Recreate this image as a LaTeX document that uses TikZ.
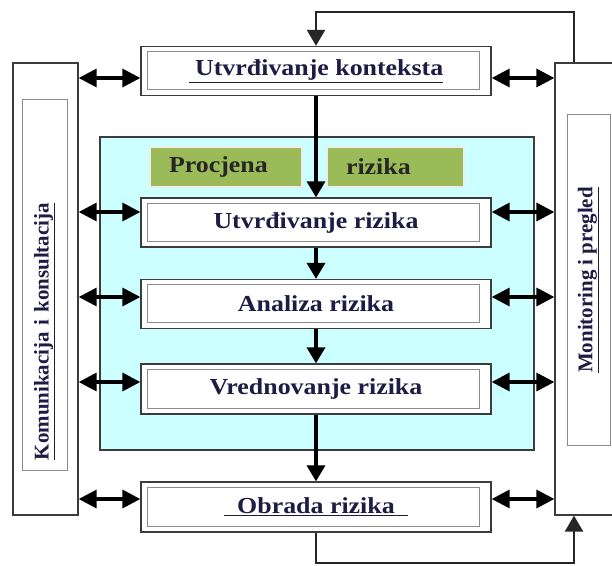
\documentclass[tikz,border=0pt]{standalone}
\usepackage{fontspec}
\setmainfont{Liberation Serif}
\usetikzlibrary{arrows.meta}
\definecolor{rk_cyan}{RGB}{204,255,255}
\definecolor{rk_green}{RGB}{155,187,89}
\definecolor{rk_text}{RGB}{28,28,68}
\definecolor{rk_frame}{RGB}{60,60,60}
\definecolor{rk_inner}{RGB}{140,140,140}
\newcommand{\widetxt}[1]{\scalebox{1.13}[1]{#1}}
\tikzset{
  stepbox/.style={rectangle, draw=rk_frame, fill=white, line width=1.3bp,
    minimum width=350bp, minimum height=49bp, inner sep=0pt, text=rk_text,
    font=\fontsize{23}{25}\selectfont\bfseries,
    path picture={\draw[rk_inner, line width=1bp]
      ([shift={(6bp,-5bp)}]path picture bounding box.north west) rectangle
      ([shift={(-12bp,6bp)}]path picture bounding box.south east);}},
  sidebox/.style={rectangle, draw=rk_frame, fill=white, line width=1.3bp, inner sep=0pt},
  sidetext/.style={rectangle, draw=rk_inner, line width=1bp, inner sep=0pt, rotate=90,
    text=rk_text, font=\fontsize{21}{23}\selectfont\bfseries},
  greenbox/.style={rectangle, fill=rk_green, draw=white!85!gray, line width=2bp,
    minimum height=40bp, inner xsep=19bp, inner ysep=0pt, align=left,
    font=\fontsize{23}{25}\selectfont\bfseries, text=black!85},
  dblarrow/.style={{Triangle[width=18bp,length=18bp]}-{Triangle[width=18bp,length=18bp]}, line width=3.4bp},
  downarrow/.style={-{Triangle[width=18bp,length=16bp]}, line width=3.5bp},
  fbline/.style={draw=black!85, line width=2.4bp, -{Triangle[width=18bp,length=16bp]}},
}
\begin{document}
\begin{tikzpicture}[x=1bp, y=-1bp]
  \useasboundingbox (0,0) rectangle (612,566);
  \clip (0,0) rectangle (612,566);
  % risk assessment area
  \node [fill=rk_cyan, draw=rk_frame, line width=1.3bp, minimum width=434bp,
    minimum height=313bp, inner sep=0pt] (procjenaArea) at (317,293.5) {};
  \node [greenbox, text width=114bp] (procjena) at (226,167) {\widetxt{Procjena}};
  \node [greenbox, text width=99bp] (rizika) at (395.5,167) {\widetxt{rizika}};
  % side boxes
  \node [sidebox, minimum width=65bp, minimum height=452bp] (komun) at (45.5,289) {};
  \node [sidetext, minimum width=370bp, minimum height=45bp, text width=350bp, align=left,
    inner xsep=10bp] (komunTxt) at (44.5,285) {\underline{Komunikacija i konsultacija}};
  \node [sidebox, minimum width=70bp, minimum height=452bp] (monit) at (590,289) {};
  \node [sidetext, minimum width=330bp, minimum height=43bp] (monitTxt) at (588.5,280)
    {\underline{Monitoring i pregled}};
  % process steps
  \node [stepbox] (kontekst) at (316,71) {\widetxt{\underline{\ Utvrđivanje konteksta}}};
  \node [stepbox] (utvrd) at (316,222.5) {\widetxt{Utvrđivanje rizika}};
  \node [stepbox] (analiza) at (316,304) {\widetxt{Analiza rizika}};
  \node [stepbox, minimum height=50bp] (vredn) at (316,389) {\widetxt{Vrednovanje rizika}};
  \node [stepbox, minimum height=50bp] (obrada) at (316,507) {\widetxt{\underline{\ \ Obrada rizika\ \ }}};
  \coordinate (fbTop) at (574,12);
  \coordinate (fbBot) at (574,563);
  % flow
  \draw [downarrow] (kontekst) to (utvrd);
  \draw [downarrow] (utvrd) to (analiza);
  \draw [downarrow] (analiza) to (vredn);
  \draw [downarrow] (vredn) to (obrada);
  \draw [fbline] (monit.north -| fbTop) -- (fbTop) -| (kontekst.north);
  \draw [fbline] (obrada.south) |- (fbBot) -- (monit.south -| fbBot);
  % communication with the side boxes
  \draw [dblarrow] (komun.east |- 0,78) to (kontekst.west |- 0,78);
  \draw [dblarrow] (kontekst.east |- 0,78) to (monit.west |- 0,78);
  \draw [dblarrow] (komun.east |- 0,212) to (utvrd.west |- 0,212);
  \draw [dblarrow] (utvrd.east |- 0,212) to (monit.west |- 0,212);
  \draw [dblarrow] (komun.east |- 0,297) to (analiza.west |- 0,297);
  \draw [dblarrow] (analiza.east |- 0,297) to (monit.west |- 0,297);
  \draw [dblarrow] (komun.east |- 0,382) to (vredn.west |- 0,382);
  \draw [dblarrow] (vredn.east |- 0,382) to (monit.west |- 0,382);
  \draw [dblarrow] (komun.east |- 0,499) to (obrada.west |- 0,499);
  \draw [dblarrow] (obrada.east |- 0,499) to (monit.west |- 0,499);
\end{tikzpicture}
\end{document}
